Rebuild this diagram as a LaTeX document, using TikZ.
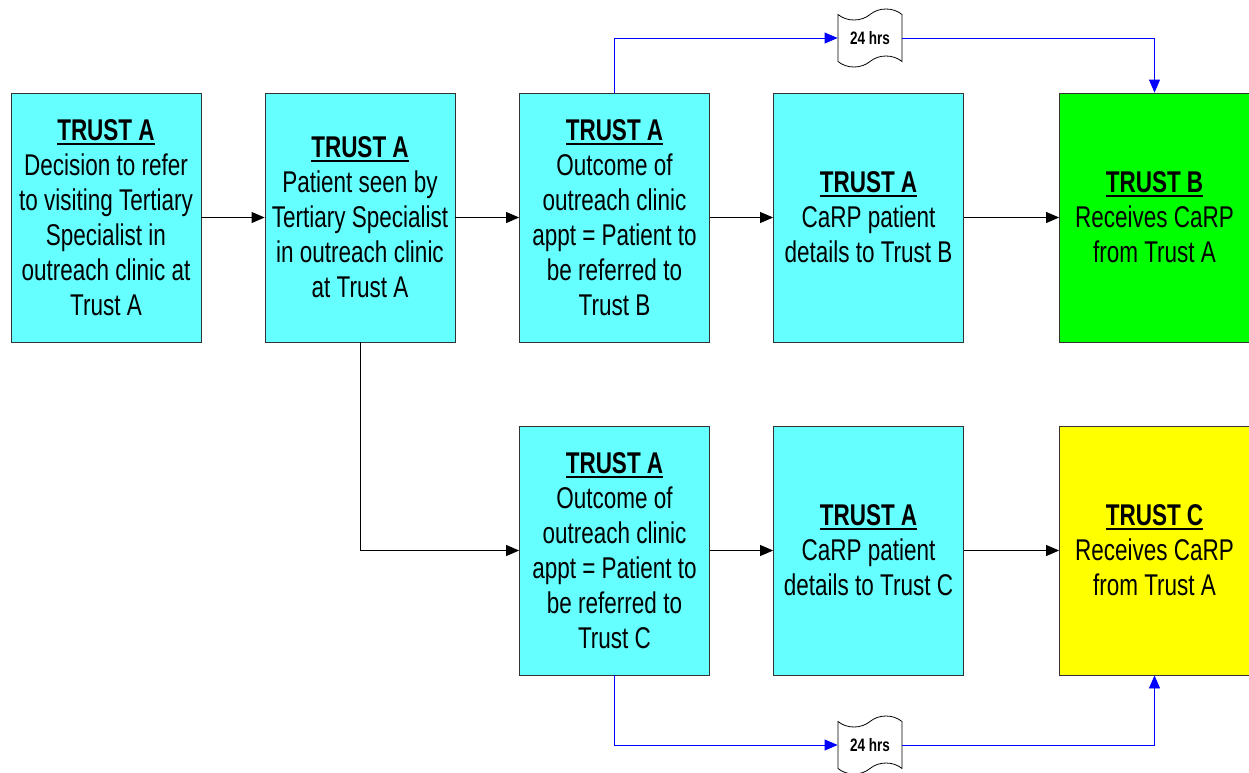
\documentclass[tikz,border=0pt]{standalone}
\usepackage{fontspec}
\setmainfont{Liberation Sans}[FakeStretch=0.75]
\usetikzlibrary{arrows.meta,shapes.symbols}
\definecolor{boxcyan}{HTML}{66FFFF}
\definecolor{boxgreen}{HTML}{00FF00}
\definecolor{boxyellow}{HTML}{FFFF00}
\definecolor{linkblue}{HTML}{0000FF}
% bold heading with a heavy underline
\newcommand\heading[1]{\setbox0=\hbox{\textbf{#1}}%
  \rlap{\smash{\rule[-4.5pt]{\wd0}{2pt}}}\box0}
\begin{document}
\begin{tikzpicture}[x=1pt,y=-1pt,
  stepbox/.style={draw=black!80, line width=0.8pt, fill=boxcyan,
    minimum width=190pt, minimum height=249pt, inner sep=0pt,
    align=center, font=\fontsize{30}{35}\selectfont},
  flow/.style={-{Triangle[length=13pt,width=11pt]}, line width=0.8pt},
  bluelink/.style={flow, color=linkblue},
  delay/.style={tape, draw, fill=white, line width=0.8pt,
    minimum width=64pt, minimum height=58pt, tape bend height=11pt,
    inner sep=2pt, font=\bfseries\fontsize{18}{20}\selectfont}]
\useasboundingbox (0,0) rectangle (1249,772);

% upper row
\node[stepbox] (refer) at (106,217.5)
  {\heading{TRUST A}\\Decision to refer\\to visiting Tertiary\\Specialist in\\outreach clinic at\\Trust A};
\node[stepbox] (seen) at (360,217.5)
  {\heading{TRUST A}\\Patient seen by\\Tertiary Specialist\\in outreach clinic\\at Trust A};
\node[stepbox] (outB) at (614.5,217.5)
  {\heading{TRUST A}\\Outcome of\\outreach clinic\\appt = Patient to\\be referred to\\Trust B};
\node[stepbox] (carpB) at (868.5,217.5)
  {\heading{TRUST A}\\CaRP patient\\details to Trust B};
\node[stepbox, fill=boxgreen] (recvB) at (1154.5,217.5)
  {\heading{TRUST B}\\Receives CaRP\\from Trust A};

% lower row
\node[stepbox] (outC) at (614.5,550.5)
  {\heading{TRUST A}\\Outcome of\\outreach clinic\\appt = Patient to\\be referred to\\Trust C};
\node[stepbox] (carpC) at (868.5,550.5)
  {\heading{TRUST A}\\CaRP patient\\details to Trust C};
\node[stepbox, fill=boxyellow] (recvC) at (1154.5,550.5)
  {\heading{TRUST C}\\Receives CaRP\\from Trust A};

% 24 hour delays
\node[delay] (waitB) at (870,38) {24 hrs};
\node[delay] (waitC) at (870,745) {24 hrs};

% black flow
\draw[flow] (refer) -- (seen);
\draw[flow] (seen) -- (outB);
\draw[flow] (outB) -- (carpB);
\draw[flow] (carpB) -- (recvB);
\draw[flow] (seen.south) |- (outC.west);
\draw[flow] (outC) -- (carpC);
\draw[flow] (carpC) -- (recvC);

% blue timed links
\draw[bluelink] (outB.north) |- (waitB.west);
\draw[bluelink] (waitB.east) -| (recvB.north);
\draw[bluelink] (outC.south) |- (waitC.west);
\draw[bluelink] (waitC.east) -| (recvC.south);
\end{tikzpicture}
\end{document}
